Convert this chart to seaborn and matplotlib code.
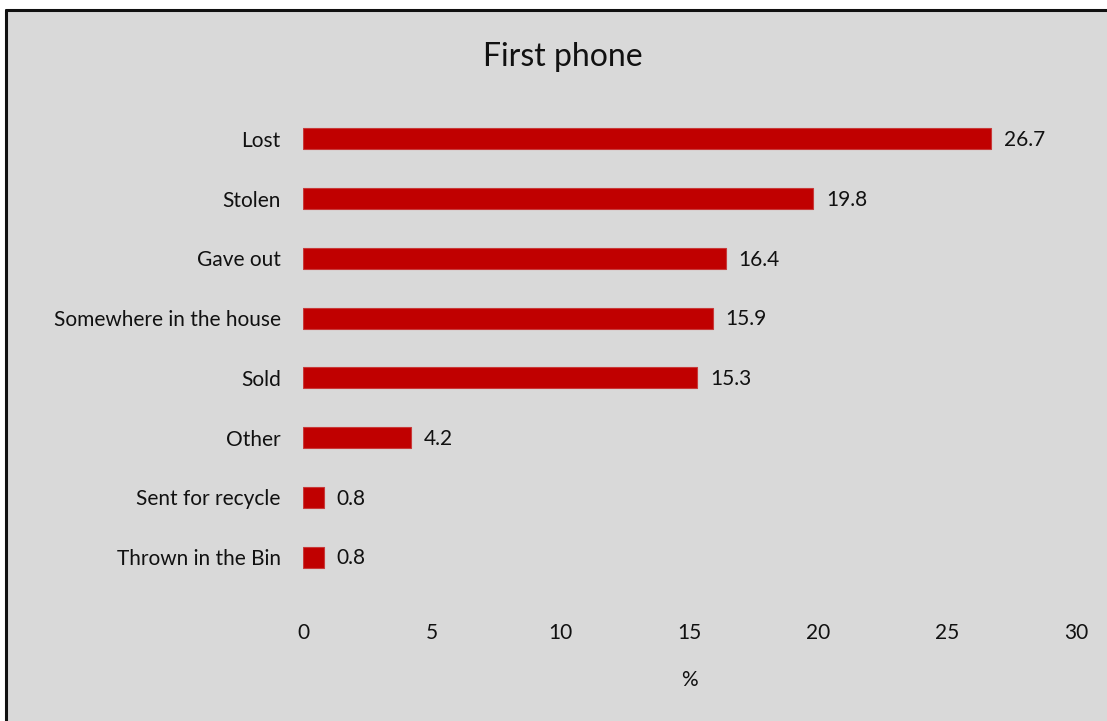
import matplotlib
matplotlib.use("Agg")
import matplotlib.pyplot as plt
from matplotlib.patches import Rectangle
from matplotlib.lines import Line2D
import seaborn as sns
import pandas as pd

categories = ["Lost", "Stolen", "Gave out", "Somewhere in the house",
              "Sold", "Other", "Sent for recycle", "Thrown in the Bin"]
values = [26.7, 19.8, 16.4, 15.9, 15.3, 4.2, 0.8, 0.8]
x_ticks = [0, 5, 10, 15, 20, 25, 30]

df = pd.DataFrame({"reason": categories, "pct": values})

sns.set_theme(style="white")
plt.rcParams["font.family"] = ["Lato", "DejaVu Sans"]

W, H = 1107, 721
fig = plt.figure(figsize=(W / 100, H / 100), dpi=100, facecolor="white")

# grey panel with a dark frame on the top and left edges
bg = "#d9d9d9"
fig.patches.append(Rectangle((6 / W, 0), 1, 1 - 10 / H, transform=fig.transFigure,
                             facecolor=bg, edgecolor="none", zorder=-10))
fig.lines.append(Line2D([6 / W, 6 / W], [0, 1 - 10 / H], transform=fig.transFigure,
                        color="#111111", linewidth=2.2))
fig.lines.append(Line2D([6 / W, 1], [1 - 10 / H, 1 - 10 / H], transform=fig.transFigure,
                        color="#111111", linewidth=2.2))

ax = fig.add_axes([303 / W, 1 - 587 / H, (1076 - 303) / W, (587 - 109) / H])
ax.set_facecolor(bg)
ax.patch.set_alpha(0)

sns.barplot(data=df, x="pct", y="reason", orient="h", color="#c00000",
            saturation=1, width=0.35, edgecolor="#c83a3a", linewidth=0.8, ax=ax)

fs = 15
for i, v in enumerate(values):
    ax.text(v + 0.5, i + 0.02, f"{v:.1f}", va="center", ha="left",
            fontsize=fs, color="#111111")

ax.set_xlim(0, 30)
ax.set_ylim(len(categories) - 0.5, -0.5)
ax.set_xticks(x_ticks)
ax.set_xticklabels([str(t) for t in x_ticks], fontsize=fs, color="#111111")
ax.tick_params(axis="x", length=0, pad=26)
ax.tick_params(axis="y", length=0, pad=16, labelsize=fs, labelcolor="#111111")
ax.set_ylabel("")
ax.set_xlabel("%", fontsize=fs, color="#111111", labelpad=19)
for s in ax.spines.values():
    s.set_visible(False)

fig.text(563 / W, 1 - 57 / H, "First phone", ha="center", va="center",
         fontsize=23, color="#111111")

fig.savefig("out.png", dpi=100, facecolor="white")
